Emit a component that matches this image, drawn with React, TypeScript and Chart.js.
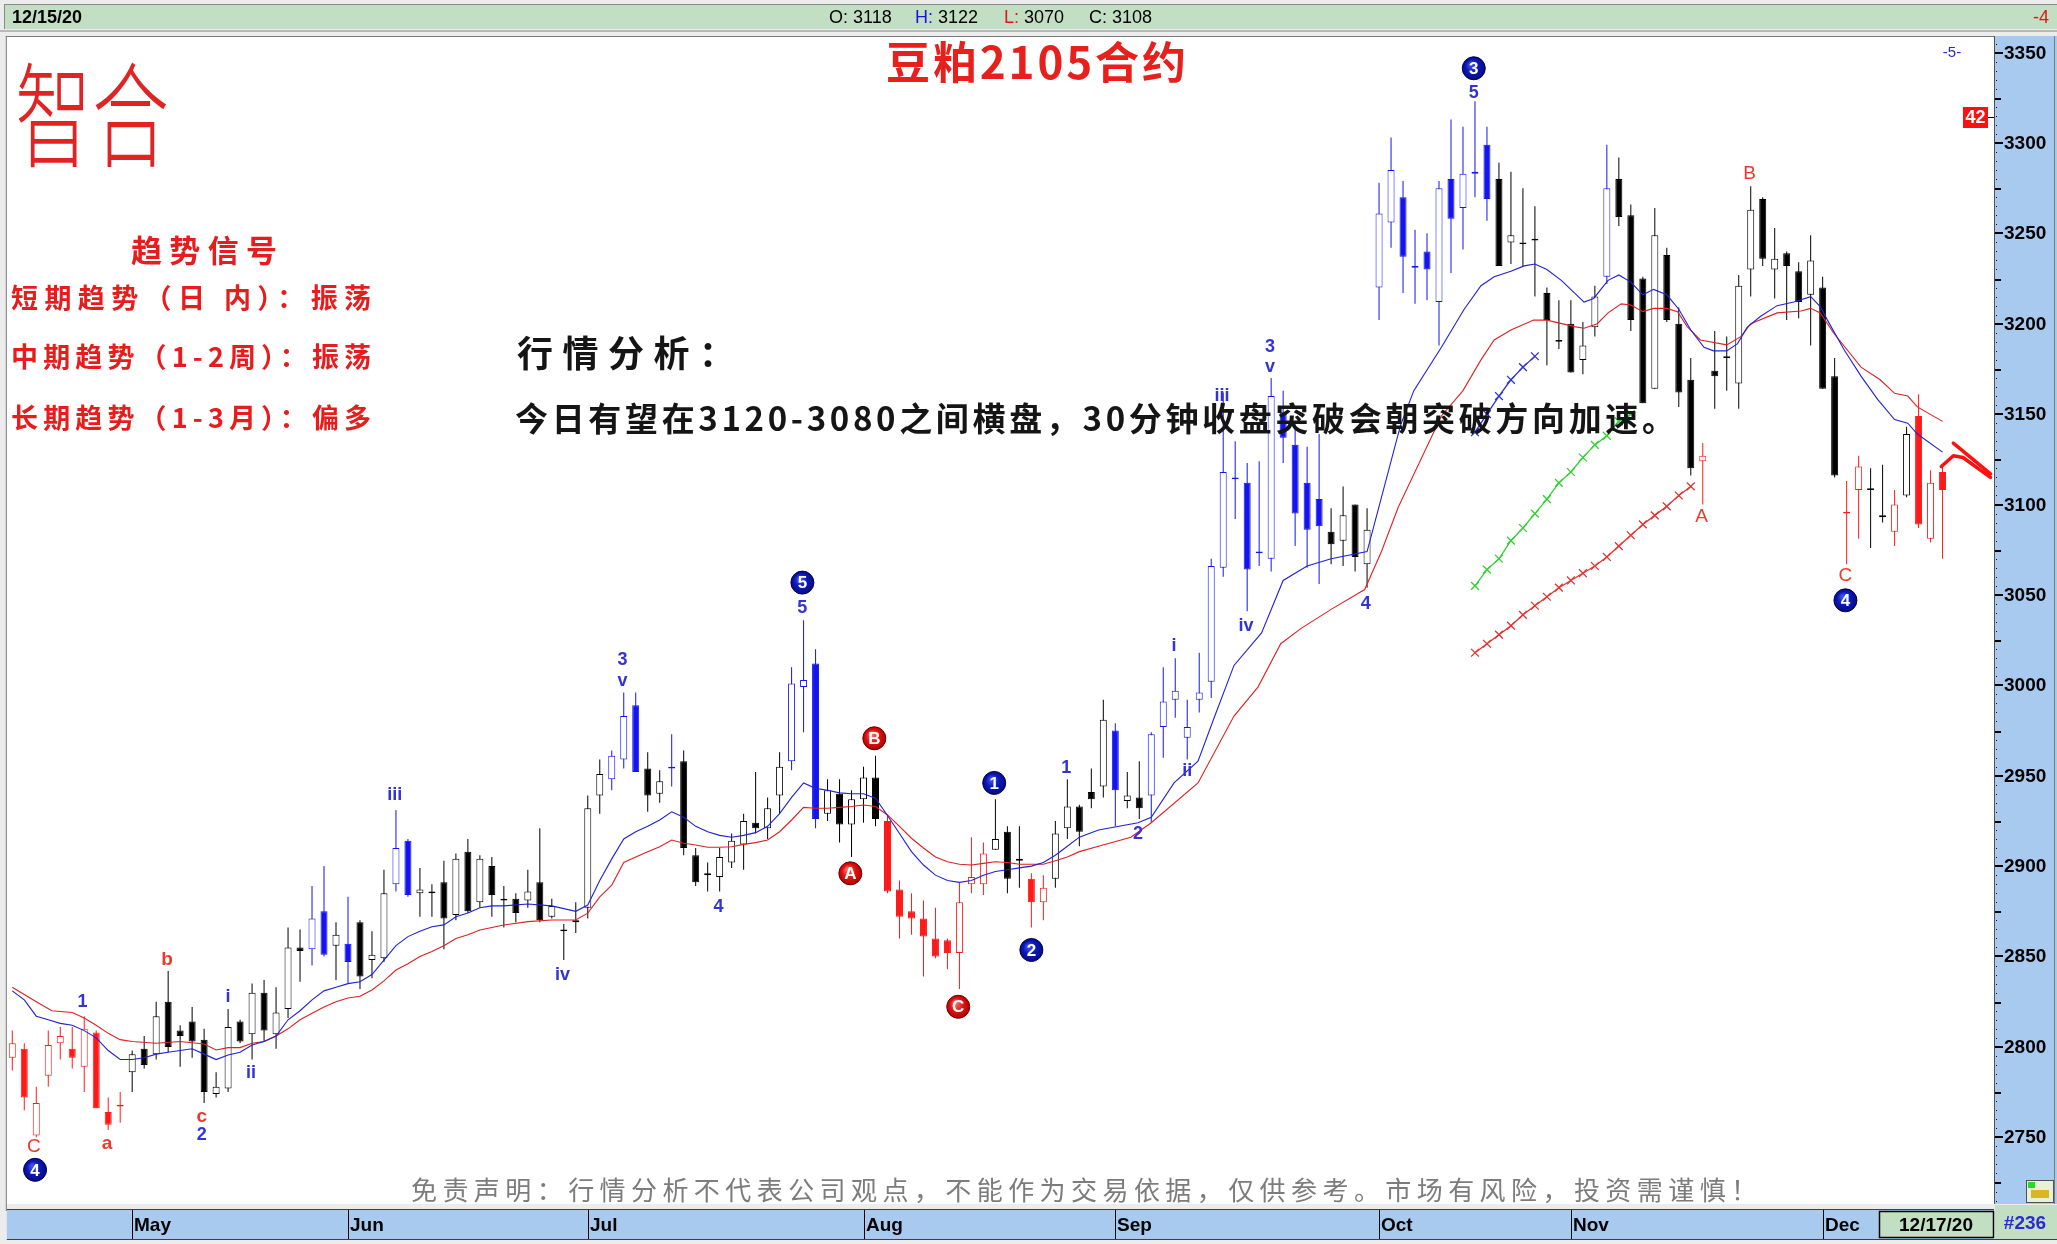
import React, { useEffect, useRef } from 'react';
import { Chart, registerables } from 'chart.js';

Chart.register(...registerables);

const W = 2057;
const H = 1244;

// ---------------- data (one candle per trading day, 2020-04-17 .. 2020-12-15) ----------------
const candleTone = (
  'rrrrrrrrrr' + 'kkkkkkkkkkkkkkk' + 'bbkbkkkbb' + 'kkkkkkkkkkkkkkkk' + 'bbb' + 'kk' + 'b' +
  'kkkkkkkkk' + 'bbb' + 'kkkkk' + 'rrrrrrrrr' + 'kkk' + 'rr' + 'kkkkk' + 'b' + 'kk' +
  'bbbbbbbbbbbbbbb' + 'kkkk' + 'bbbbbbbbbb' + 'kkkkkkkkk' + 'b' + 'kkkkkkk' + 'r' +
  'kkkkkkkkkkk' + 'rr' + 'kk' + 'r' + 'k' + 'rrr'
).split('');

const opens = [
  2794, 2799, 2751, 2784, 2802, 2799, 2789, 2808, 2764, 2767,
  2786, 2799, 2796, 2825, 2809, 2814, 2804, 2774, 2777, 2814,
  2807, 2830, 2807, 2821, 2855, 2854, 2875, 2856, 2857, 2869,
  2848, 2849, 2890, 2914, 2885, 2885, 2891, 2873, 2908, 2880,
  2900, 2882, 2882, 2881, 2891, 2872, 2865, 2870, 2877, 2939,
  2948, 2959, 2989, 2954, 2940, 2955, 2958, 2906, 2896, 2894,
  2902, 2912, 2924, 2921, 2939, 2958, 2999, 3012, 2929, 2940,
  2923, 2937, 2949, 2925, 2887, 2875, 2871, 2860, 2859, 2852,
  2890, 2890, 2909, 2919, 2904, 2893, 2880, 2893, 2921, 2933,
  2941, 2944, 2975, 2936, 2938, 2939, 2977, 2992, 2971, 2992,
  3002, 3065, 3115, 3112, 3074, 3070, 3151, 3133, 3112, 3103,
  3085, 3080, 3100, 3067, 3220, 3256, 3270, 3232, 3240, 3212,
  3280, 3264, 3284, 3299, 3280, 3245, 3245, 3247, 3217, 3191,
  3200, 3180, 3198, 3226, 3280, 3260, 3225, 3164, 3238, 3200,
  3169, 3124, 3174, 3182, 3167, 3230, 3269, 3230, 3239, 3229,
  3216, 3220, 3171, 3096, 3108, 3109, 3094, 3085, 3105, 3149,
  3081, 3118,
];
const highs = [
  2809, 2802, 2778, 2809, 2811, 2811, 2817, 2809, 2772, 2775,
  2798, 2806, 2825, 2842, 2812, 2822, 2810, 2786, 2821, 2815,
  2835, 2837, 2833, 2866, 2865, 2889, 2900, 2869, 2883, 2870,
  2864, 2898, 2931, 2915, 2899, 2890, 2903, 2907, 2915, 2906,
  2905, 2889, 2885, 2898, 2921, 2882, 2868, 2880, 2939, 2959,
  2964, 2996, 2996, 2963, 2953, 2973, 2964, 2910, 2902, 2910,
  2918, 2929, 2952, 2938, 2963, 3010, 3036, 3020, 2948, 2948,
  2942, 2955, 2961, 2928, 2892, 2885, 2881, 2877, 2860, 2891,
  2916, 2913, 2937, 2922, 2922, 2896, 2895, 2925, 2948, 2934,
  2954, 2992, 2979, 2952, 2958, 2974, 3010, 3015, 2992, 3018,
  3070, 3162, 3135, 3123, 3124, 3170, 3163, 3145, 3132, 3139,
  3098, 3110, 3100, 3098, 3278, 3303, 3279, 3252, 3250, 3279,
  3313, 3309, 3323, 3309, 3289, 3284, 3275, 3265, 3220, 3213,
  3213, 3201, 3221, 3299, 3292, 3266, 3226, 3264, 3242, 3209,
  3181, 3134, 3196, 3193, 3227, 3276, 3270, 3253, 3240, 3234,
  3249, 3226, 3181, 3113, 3127, 3120, 3122, 3108, 3143, 3161,
  3119, 3122,
];
const lows = [
  2787, 2765, 2750, 2778, 2793, 2788, 2775, 2766, 2754, 2758,
  2775, 2788, 2793, 2797, 2789, 2794, 2769, 2772, 2775, 2802,
  2793, 2803, 2799, 2816, 2836, 2845, 2850, 2837, 2835, 2832,
  2838, 2847, 2886, 2883, 2872, 2872, 2854, 2870, 2874, 2877,
  2872, 2866, 2869, 2877, 2869, 2871, 2848, 2863, 2871, 2929,
  2942, 2954, 2952, 2930, 2935, 2944, 2906, 2889, 2886, 2886,
  2899, 2898, 2918, 2915, 2929, 2953, 2974, 2921, 2925, 2913,
  2905, 2924, 2922, 2885, 2860, 2862, 2839, 2849, 2843, 2832,
  2885, 2884, 2909, 2885, 2888, 2866, 2870, 2888, 2915, 2911,
  2932, 2938, 2922, 2932, 2926, 2924, 2960, 2982, 2959, 2985,
  2993, 3060, 3092, 3041, 3066, 3063, 3123, 3077, 3065, 3056,
  3067, 3066, 3063, 3054, 3202, 3242, 3217, 3211, 3213, 3188,
  3228, 3241, 3270, 3257, 3232, 3233, 3232, 3215, 3177, 3186,
  3173, 3172, 3193, 3222, 3254, 3196, 3156, 3164, 3201, 3154,
  3116, 3100, 3153, 3163, 3153, 3215, 3232, 3214, 3202, 3203,
  3188, 3164, 3115, 3067, 3081, 3076, 3090, 3077, 3104, 3087,
  3079, 3070,
];
const closes = [
  2802, 2772, 2769, 2801, 2806, 2794, 2810, 2766, 2757, 2768,
  2796, 2790, 2817, 2800, 2806, 2803, 2775, 2778, 2811, 2803,
  2830, 2809, 2819, 2855, 2853, 2871, 2851, 2862, 2847, 2839,
  2851, 2885, 2910, 2884, 2887, 2886, 2871, 2904, 2875, 2904,
  2884, 2881, 2874, 2886, 2870, 2878, 2864, 2869, 2932, 2951,
  2961, 2983, 2952, 2939, 2947, 2954, 2910, 2891, 2895, 2905,
  2914, 2925, 2921, 2932, 2955, 3001, 3003, 2926, 2942, 2923,
  2937, 2949, 2926, 2886, 2872, 2871, 2861, 2850, 2852, 2880,
  2894, 2907, 2915, 2893, 2903, 2880, 2888, 2918, 2933, 2919,
  2937, 2981, 2942, 2939, 2932, 2973, 2991, 2997, 2977, 2996,
  3066, 3118, 3114, 3064, 3073, 3160, 3137, 3095, 3086, 3088,
  3078, 3094, 3071, 3086, 3261, 3285, 3237, 3231, 3230, 3275,
  3258, 3283, 3283, 3269, 3232, 3249, 3244, 3246, 3202, 3190,
  3173, 3188, 3215, 3275, 3259, 3202, 3156, 3249, 3202, 3162,
  3120, 3127, 3171, 3181, 3221, 3263, 3236, 3236, 3232, 3212,
  3235, 3164, 3116, 3095, 3121, 3108, 3093, 3100, 3139, 3089,
  3112, 3108,
];

// moving averages: [bar, value]
const maFast = [
  [0, 2831], [1, 2826], [2, 2817], [3, 2815], [4, 2813], [5, 2812], [6, 2809], [7, 2805], [8, 2798], [9, 2793],
  [10, 2793], [11, 2794], [12, 2796], [13, 2797], [14, 2798], [15, 2799], [16, 2796], [17, 2793], [18, 2795.5], [19, 2797],
  [20, 2801], [21, 2803], [22, 2806], [23, 2815], [24, 2820], [25, 2826], [26, 2831], [27, 2833], [28, 2835], [29, 2836],
  [30, 2840], [31, 2848], [32, 2856], [33, 2861], [34, 2864], [35, 2866.5], [36, 2867.5], [37, 2872], [38, 2874], [39, 2877],
  [40, 2878], [41, 2878], [43, 2879], [45, 2878], [47, 2875], [48, 2878.5], [49, 2892], [50, 2904], [51, 2915], [52, 2919],
  [53, 2922], [54, 2925.5], [55, 2930], [56, 2927], [57, 2922], [58, 2919], [59, 2917], [60, 2916], [61, 2917], [62, 2918.5],
  [63, 2922], [64, 2929], [65, 2938], [66, 2946], [67, 2943], [68, 2942], [69, 2940.5], [70, 2940], [71, 2940], [72, 2937.5],
  [73, 2928], [74, 2918], [75, 2908], [76, 2900.6], [77, 2895], [78, 2892], [79, 2891], [80, 2892], [81, 2895], [82, 2897],
  [83, 2898], [84, 2899], [85, 2900], [86, 2902], [87, 2906], [88, 2911], [89, 2916], [90.6, 2920], [93.9, 2924], [95, 2927],
  [96.9, 2946], [98.9, 2958], [100.3, 2983], [101.9, 3011], [104.2, 3029], [106, 3058], [108, 3066], [110, 3070], [113, 3074],
  [114.2, 3104], [115.8, 3144], [116.9, 3163], [119.2, 3187], [121.1, 3208], [122.5, 3221], [123.6, 3226], [125, 3229],
  [126.1, 3232], [127, 3233], [128, 3230], [129.2, 3224], [131.1, 3212], [131.9, 3214], [133.1, 3224], [134, 3227], [135, 3223],
  [136, 3216], [136.9, 3219], [138, 3216], [139, 3208], [140, 3196.5], [141.1, 3187], [141.9, 3185], [143, 3185], [143.9, 3189],
  [144.7, 3198], [145.8, 3204], [147.2, 3210], [148.6, 3212], [150, 3215], [150.8, 3209.5], [151.4, 3202], [152.8, 3185.5],
  [154.2, 3171], [155.6, 3158], [157, 3147], [158.1, 3145], [158.9, 3139], [161, 3129],
];
const maSlow = [
  [0, 2833], [2, 2825], [3.3, 2820], [5, 2819], [6, 2816], [7, 2812], [8, 2807.5], [9, 2804], [10, 2803], [12, 2802],
  [14, 2803], [16, 2801.6], [17, 2798.3], [18, 2799.6], [19, 2799.6], [20, 2802], [21, 2803], [22, 2806], [23, 2810], [24, 2815],
  [25, 2818.6], [26, 2822], [27, 2825], [28, 2827], [29, 2828], [30, 2831.5], [31, 2836.5], [32, 2842.5], [33, 2846], [34, 2850],
  [35, 2852.7], [36, 2856], [37, 2860], [38, 2862], [39, 2864.7], [41, 2867.4], [43, 2869.3], [45, 2870.2], [47, 2870.2], [48, 2874],
  [49, 2883], [50, 2889.5], [51, 2902], [52, 2905], [53, 2908], [54, 2910.7], [55, 2914.4], [56, 2912.6], [57, 2911.7], [58, 2910.4],
  [59, 2910.4], [60, 2910.7], [61, 2912], [62, 2913], [63, 2914.4], [64, 2919], [65, 2925.5], [66, 2932.5], [67, 2932], [68, 2932],
  [69, 2932.5], [70, 2933], [71, 2933.8], [72, 2933], [73, 2928.3], [74, 2922], [75, 2915.4], [76, 2910], [77, 2905], [78, 2902.4],
  [79, 2901], [80, 2900.6], [81, 2901.5], [82, 2902.4], [83, 2902], [84, 2901], [85, 2901], [86, 2901], [87, 2903], [88, 2905],
  [89, 2908], [90.6, 2911], [93.3, 2916], [95, 2924], [98.9, 2946], [101.9, 2983], [103.9, 2999], [105.8, 3023], [107.5, 3031.5],
  [110, 3042], [112.8, 3053], [114.2, 3074], [115.6, 3098.5], [119.2, 3149], [121, 3163], [122.5, 3180], [123.6, 3191],
  [125, 3196.5], [126.9, 3202], [128, 3202], [130.3, 3198.4], [131.1, 3197.5], [132.2, 3200], [133.1, 3206], [134.2, 3211],
  [135, 3210.4], [136, 3206.7], [136.9, 3208.5], [138, 3208.5], [138.9, 3206.7], [139.7, 3198.4], [140.8, 3191], [143, 3188.3],
  [144.2, 3193], [145, 3200], [147.2, 3206], [149.2, 3207], [150, 3208.5], [150.8, 3206], [151.9, 3195], [154.2, 3176],
  [155.8, 3169], [157, 3161.5], [158.1, 3160], [158.9, 3154], [161, 3146],
];

// hand-drawn channel lines with x markers: [bar, value]
const greenTrack = [
  [122, 3055], [123, 3064], [124, 3070], [125, 3080], [126, 3087], [127, 3095], [128, 3103],
  [129, 3112], [130, 3118], [131, 3126], [132, 3133], [133, 3138], [134, 3146], [135, 3150],
];
const redTrack = [
  [122, 3018], [123, 3023], [124, 3028], [125, 3033], [126, 3039], [127, 3044], [128, 3049], [129, 3054],
  [130, 3058], [131, 3062], [132, 3066], [133, 3071], [134, 3077], [135, 3083], [136, 3089], [137, 3094],
  [138, 3099], [139, 3105], [140, 3110],
];
const blueTrack = [[122, 3140], [123, 3150], [124, 3160], [125, 3169], [126, 3176], [127, 3182]];

const monthLabels = ['May', 'Jun', 'Jul', 'Aug', 'Sep', 'Oct', 'Nov', 'Dec'];
const monthStartBars = [10, 28, 48, 71, 92, 114, 130, 151];
const yTicks = [2750, 2800, 2850, 2900, 2950, 3000, 3050, 3100, 3150, 3200, 3250, 3300, 3350];

// wave labels: [text, bar, price, kind]
const waveLabels = [
  ['4', 1.9, 2732, 'cb'], ['C', 1.8, 2745, 'ru'], ['1', 5.85, 2825, 'b'], ['a', 7.9, 2746.5, 'rl'],
  ['b', 12.9, 2848, 'rl'], ['c', 15.8, 2761.5, 'rl'], ['2', 15.8, 2751, 'b'], ['i', 18, 2827.7, 'b'],
  ['ii', 19.9, 2785.5, 'b'], ['iii', 31.9, 2939.4, 'b'], ['iv', 45.9, 2839.8, 'b'], ['3', 50.9, 3014, 'b'],
  ['v', 50.9, 3002.6, 'b'], ['4', 58.9, 2877.6, 'b'], ['5', 65.9, 3056.8, 'cb'], ['5', 65.9, 3042.6, 'b'],
  ['A', 69.9, 2896, 'cr'], ['B', 71.9, 2970.7, 'cr'], ['C', 78.9, 2822.2, 'cr'], ['1', 81.9, 2946, 'cb'],
  ['2', 85, 2853.6, 'cb'], ['1', 87.9, 2954.5, 'b'], ['2', 93.9, 2917.5, 'b'], ['i', 96.9, 3021.5, 'b'],
  ['ii', 98, 2952.5, 'b'], ['iii', 100.9, 3160, 'b'], ['3', 104.9, 3187, 'b'], ['v', 104.9, 3176, 'b'],
  ['iv', 102.9, 3033, 'b'], ['4', 112.9, 3045, 'b'], ['3', 121.9, 3341.3, 'cb'], ['5', 121.9, 3327.5, 'b'],
  ['A', 140.9, 3093, 'ru'], ['B', 144.9, 3283.2, 'ru'], ['C', 152.9, 3060.5, 'ru'], ['4', 152.9, 3047, 'cb'],
];

// hand-drawn arrow: [bar, price]
const arrowMain = [[160.9, 3121], [161.9, 3127], [162.7, 3126], [165.0, 3115]];
const arrowBarb = [[161.9, 3134], [165.0, 3117]];

const TITLE = '豆粕2105合约';
const LOGO = '智合';
const SIGNAL_HEAD = '趋势信号';
const SIGNALS = ['短期趋势（日 内）：振荡', '中期趋势（1-2周）：振荡', '长期趋势（1-3月）：偏多'];
const ANALYSIS_HEAD = '行情分析：';
const ANALYSIS = '今日有望在3120-3080之间横盘，30分钟收盘突破会朝突破方向加速。';
const DISCLAIMER = '免责声明：行情分析不代表公司观点，不能作为交易依据，仅供参考。市场有风险，投资需谨慎！';

// ---------------- styling ----------------
const CJK = '"Noto Sans CJK SC", "Noto Sans", sans-serif';
const LAT = '"Liberation Sans", Arial, sans-serif';
const TONE = { r: '#ff1a1a', k: '#000000', b: '#1414f0' };
const AXIS_BG = '#a8caee';
const GREEN_BG = '#c3dfc3';
const X_MIN = -0.4583;
const X_MAX = X_MIN + 1989 / 12;
const Y_MIN = 2713.1;
const Y_MAX = 3358.6;

function drawFit(ctx, text, left, cy, width, fontStr, color) {
  ctx.save();
  ctx.font = fontStr;
  ctx.fillStyle = color;
  ctx.textAlign = 'left';
  ctx.textBaseline = 'middle';
  ctx.letterSpacing = '0px';
  const w0 = ctx.measureText(text).width;
  const n = Array.from(text).length;
  const sp = n > 1 ? (width - w0) / (n - 1) : 0;
  ctx.letterSpacing = sp.toFixed(2) + 'px';
  ctx.fillText(text, left, cy);
  ctx.restore();
}

const decor = {
  id: 'decor',
  beforeDraw(chart) {
    const { ctx, chartArea: ca } = chart;
    ctx.save();
    ctx.fillStyle = '#ececec';
    ctx.fillRect(0, 0, W, H);
    // header bar
    ctx.fillStyle = GREEN_BG;
    ctx.fillRect(4, 5, W - 4, 24);
    ctx.fillStyle = '#8a8a8a';
    ctx.fillRect(4, 4, W - 4, 1);
    ctx.fillRect(4, 4, 1, 25);
    ctx.fillStyle = '#b8b8b8';
    ctx.fillRect(0, 30, W, 2);
    // plot area
    ctx.fillStyle = '#ffffff';
    ctx.fillRect(ca.left, ca.top, ca.right - ca.left, ca.bottom - ca.top);
    ctx.fillStyle = '#7a7a7a';
    ctx.fillRect(ca.left - 1, ca.top - 1, ca.right - ca.left + 1, 1);
    ctx.fillRect(ca.left - 1, ca.top - 1, 1, ca.bottom - ca.top + 8);
    // right axis panel
    ctx.fillStyle = AXIS_BG;
    ctx.fillRect(ca.right, ca.top - 1, W - ca.right, ca.bottom - ca.top + 1);
    ctx.fillStyle = '#505050';
    ctx.fillRect(ca.right, ca.top - 1, 1, ca.bottom - ca.top + 1);
    ctx.fillStyle = '#7a7a7a';
    ctx.fillRect(W - 3, ca.top - 1, 1, ca.bottom - ca.top + 1);
    // bottom axis band
    ctx.fillStyle = AXIS_BG;
    ctx.fillRect(ca.left, 1210, ca.right - ca.left, 29);
    ctx.fillStyle = '#404040';
    ctx.fillRect(ca.left, 1209, ca.right - ca.left, 1);
    ctx.fillRect(ca.left, 1239, W - ca.left, 1);
    ctx.restore();
  },
  afterDraw(chart) {
    const { ctx, chartArea: ca } = chart;
    const xs = chart.scales.x;
    const ys = chart.scales.y;
    const P = (b, p) => [xs.getPixelForValue(b), ys.getPixelForValue(p)];
    ctx.save();

    // ---- y axis ticks ----
    ctx.fillStyle = '#000';
    for (let v = 2715; v <= 3355; v += 5) {
      const y = Math.round(ys.getPixelForValue(v));
      if (v % 50 === 0) continue;
      if (v % 25 === 0) ctx.fillRect(ca.right + 1, y, 6, 2);
      else ctx.fillRect(ca.right + 2, y, 1, 1);
    }
    ctx.font = 'bold 19px ' + LAT;
    ctx.textAlign = 'left';
    ctx.textBaseline = 'middle';
    for (const v of yTicks) {
      const y = Math.round(ys.getPixelForValue(v));
      ctx.fillRect(ca.right + 1, y - 1, 8, 2);
      ctx.fillText(String(v), ca.right + 10, y + 1);
    }

    // ---- x axis months ----
    ctx.font = 'bold 19px ' + LAT;
    ctx.textBaseline = 'middle';
    monthLabels.forEach((m, k) => {
      const x = Math.round(xs.getPixelForValue(monthStartBars[k]));
      ctx.fillStyle = '#000';
      ctx.fillRect(x, 1210, 1, 29);
      ctx.fillText(m, x + 2, 1226);
    });
    // date box & bar count
    ctx.fillStyle = GREEN_BG;
    ctx.fillRect(1879, 1211, 115, 27);
    ctx.strokeStyle = '#000';
    ctx.lineWidth = 1.5;
    ctx.strokeRect(1879.5, 1211.5, 114, 26);
    ctx.fillStyle = '#000';
    ctx.textAlign = 'center';
    ctx.fillText('12/17/20', 1936, 1226);
    ctx.fillStyle = GREEN_BG;
    ctx.fillRect(1995, 1205, 62, 34);
    ctx.fillStyle = '#2a2ad0';
    ctx.fillText('#236', 2025, 1224);
    // small icon bottom right
    ctx.fillStyle = '#e8f0d8';
    ctx.fillRect(2026, 1180, 28, 23);
    ctx.strokeStyle = '#505050';
    ctx.lineWidth = 1;
    ctx.strokeRect(2026.5, 1180.5, 27, 22);
    ctx.fillStyle = '#d8b820';
    ctx.fillRect(2031, 1190, 18, 8);
    ctx.fillStyle = '#22dd22';
    ctx.fillRect(2028, 1182, 7, 6);

    // ---- header ----
    ctx.textAlign = 'left';
    ctx.textBaseline = 'middle';
    ctx.font = 'bold 18px ' + LAT;
    ctx.fillStyle = '#000';
    ctx.fillText('12/15/20', 12, 18);
    ctx.font = '18px ' + LAT;
    const hdr = [['O: ', '#000', 829], ['H: ', '#1515e0', 915], ['L: ', '#e01515', 1004], ['C: ', '#000', 1089]];
    const hv = [opens[161], highs[161], lows[161], closes[161]];
    hdr.forEach(([lab, col, x], k) => {
      ctx.fillStyle = col;
      ctx.fillText(lab, x, 18);
      const w = ctx.measureText(lab).width;
      ctx.fillStyle = '#000';
      ctx.fillText(String(hv[k]), x + w, 18);
    });
    ctx.fillStyle = '#e01515';
    ctx.textAlign = 'right';
    ctx.fillText('-4', 2049, 18);

    // ---- wave labels ----
    ctx.textAlign = 'center';
    ctx.textBaseline = 'middle';
    for (const [t, b, p, kind] of waveLabels) {
      const [x, y] = P(b, p);
      if (kind === 'cb' || kind === 'cr') {
        const blue = kind === 'cb';
        const g = ctx.createRadialGradient(x - 3, y - 4, 1, x, y, 12);
        g.addColorStop(0, blue ? '#4050f0' : '#ff7060');
        g.addColorStop(0.5, blue ? '#0c18b8' : '#e01414');
        g.addColorStop(1, blue ? '#050c80' : '#b00000');
        ctx.beginPath();
        ctx.arc(x, y, 11.5, 0, Math.PI * 2);
        ctx.fillStyle = g;
        ctx.fill();
        ctx.strokeStyle = blue ? '#000050' : '#700000';
        ctx.lineWidth = 1;
        ctx.stroke();
        ctx.fillStyle = '#fff';
        ctx.font = 'bold 17px ' + LAT;
        ctx.fillText(t, x, y + 1);
      } else if (kind === 'b') {
        ctx.fillStyle = '#3434d4';
        ctx.font = 'bold 18px ' + LAT;
        ctx.fillText(t, x, y);
      } else if (kind === 'rl') {
        ctx.fillStyle = '#ee3a2a';
        ctx.font = 'bold 19px ' + LAT;
        ctx.fillText(t, x, y);
      } else {
        ctx.fillStyle = '#ee3a2a';
        ctx.font = '19px ' + LAT;
        ctx.fillText(t, x, y);
      }
    }

    // ---- red hand-drawn arrow ----
    ctx.strokeStyle = '#ff1010';
    ctx.lineWidth = 3.5;
    ctx.lineJoin = 'round';
    ctx.lineCap = 'round';
    for (const path of [arrowMain, arrowBarb]) {
      ctx.beginPath();
      path.forEach(([b, p], k) => {
        const [x, y] = P(b, p);
        if (k === 0) ctx.moveTo(x, y);
        else ctx.lineTo(x, y);
      });
      ctx.stroke();
    }

    // ---- small markers top right ----
    ctx.fillStyle = '#ff1010';
    ctx.fillRect(1963, 107, 25, 21);
    ctx.fillStyle = '#fff';
    ctx.font = 'bold 18px ' + LAT;
    ctx.textAlign = 'center';
    ctx.fillText('42', 1975.5, 118);
    ctx.fillStyle = '#000';
    ctx.fillRect(1988, 117, 6, 1);
    ctx.fillStyle = '#2a2ad0';
    ctx.font = '15px ' + LAT;
    ctx.fillText('-5-', 1952, 53);

    // ---- texts ----
    drawFit(ctx, TITLE, 886, 62, 300, 'bold 44px ' + CJK, '#e8201c');
    ctx.save();
    ctx.translate(15, 64);
    ctx.scale(1, 1.48);
    ctx.font = '300 77px ' + CJK;
    ctx.fillStyle = '#e02424';
    ctx.textAlign = 'left';
    ctx.textBaseline = 'top';
    ctx.fillText(LOGO, 0, -4);
    ctx.restore();
    drawFit(ctx, SIGNAL_HEAD, 131, 250, 146, 'bold 31px ' + CJK, '#e81c1c');
    const sy = [298, 357, 418];
    SIGNALS.forEach((s, k) => drawFit(ctx, s, 11, sy[k], 360, 'bold 27px ' + CJK, '#e81c1c'));
    drawFit(ctx, ANALYSIS_HEAD, 517, 353, 218, 'bold 36px ' + CJK, '#151515');
    drawFit(ctx, ANALYSIS, 515, 418, 1160, 'bold 33px ' + CJK, '#151515');
    drawFit(ctx, DISCLAIMER, 411, 1190, 1346, '26px ' + CJK, '#7c7c7c');

    ctx.restore();
  },
};

export default function App() {
  const ref = useRef(null);
  useEffect(() => {
    document.body.style.margin = '0';
    const idx = opens.map((_, i) => i);
    const hollow = (i) => closes[i] - opens[i] >= 2;
    const tone = (i) => TONE[candleTone[i]];
    const chart = new Chart(ref.current, {
      type: 'bar',
      data: {
        datasets: [
          {
            type: 'line',
            label: 'fast',
            order: 0,
            data: maFast.map(([x, y]) => ({ x, y })),
            borderColor: '#2020d8',
            borderWidth: 1.1,
            pointRadius: 0,
            tension: 0,
          },
          {
            type: 'line',
            label: 'slow',
            order: 0,
            data: maSlow.map(([x, y]) => ({ x, y })),
            borderColor: '#e02020',
            borderWidth: 1.1,
            pointRadius: 0,
            tension: 0,
          },
          {
            type: 'line',
            label: 'green',
            order: 0,
            data: greenTrack.map(([x, y]) => ({ x, y })),
            borderColor: '#30d030',
            borderWidth: 1.3,
            pointStyle: 'crossRot',
            pointRadius: 5.5,
            pointBorderWidth: 1.3,
            pointBorderColor: '#30d030',
            tension: 0,
          },
          {
            type: 'line',
            label: 'redx',
            order: 0,
            data: redTrack.map(([x, y]) => ({ x, y })),
            borderColor: '#e83030',
            borderWidth: 1.3,
            pointStyle: 'crossRot',
            pointRadius: 5.5,
            pointBorderWidth: 1.3,
            pointBorderColor: '#e83030',
            tension: 0,
          },
          {
            type: 'line',
            label: 'bluex',
            order: 0,
            data: blueTrack.map(([x, y]) => ({ x, y })),
            borderColor: '#3030d8',
            borderWidth: 1.3,
            pointStyle: 'crossRot',
            pointRadius: 5.5,
            pointBorderWidth: 1.3,
            pointBorderColor: '#3030d8',
            tension: 0,
          },
          {
            type: 'bar',
            label: 'body',
            order: 1,
            grouped: false,
            data: idx.map((i) => ({ x: i, y: [opens[i], closes[i]] })),
            backgroundColor: idx.map((i) => (hollow(i) ? '#ffffff' : tone(i))),
            borderColor: idx.map(tone),
            borderWidth: 1,
            borderSkipped: false,
            barThickness: 7,
            inflateAmount: 0,
          },
          {
            type: 'bar',
            label: 'wick',
            order: 2,
            grouped: false,
            data: idx.map((i) => ({ x: i, y: [lows[i], highs[i]] })),
            backgroundColor: idx.map(tone),
            borderWidth: 0,
            barThickness: 1,
            inflateAmount: 0,
          },
        ],
      },
      options: {
        responsive: false,
        animation: false,
        devicePixelRatio: 1,
        events: [],
        layout: { padding: { left: 5, right: 63, top: 37, bottom: 40 } },
        plugins: { legend: { display: false }, tooltip: { enabled: false } },
        scales: {
          x: { type: 'linear', min: X_MIN, max: X_MAX, display: false, offset: false },
          y: { type: 'linear', min: Y_MIN, max: Y_MAX, display: false },
        },
      },
      plugins: [decor],
    });
    return () => chart.destroy();
  }, []);
  return (
    <div style={{ position: 'fixed', left: 0, top: 0, width: W, height: H }}>
      <canvas ref={ref} width={W} height={H} style={{ width: W, height: H, display: 'block' }} />
    </div>
  );
}
